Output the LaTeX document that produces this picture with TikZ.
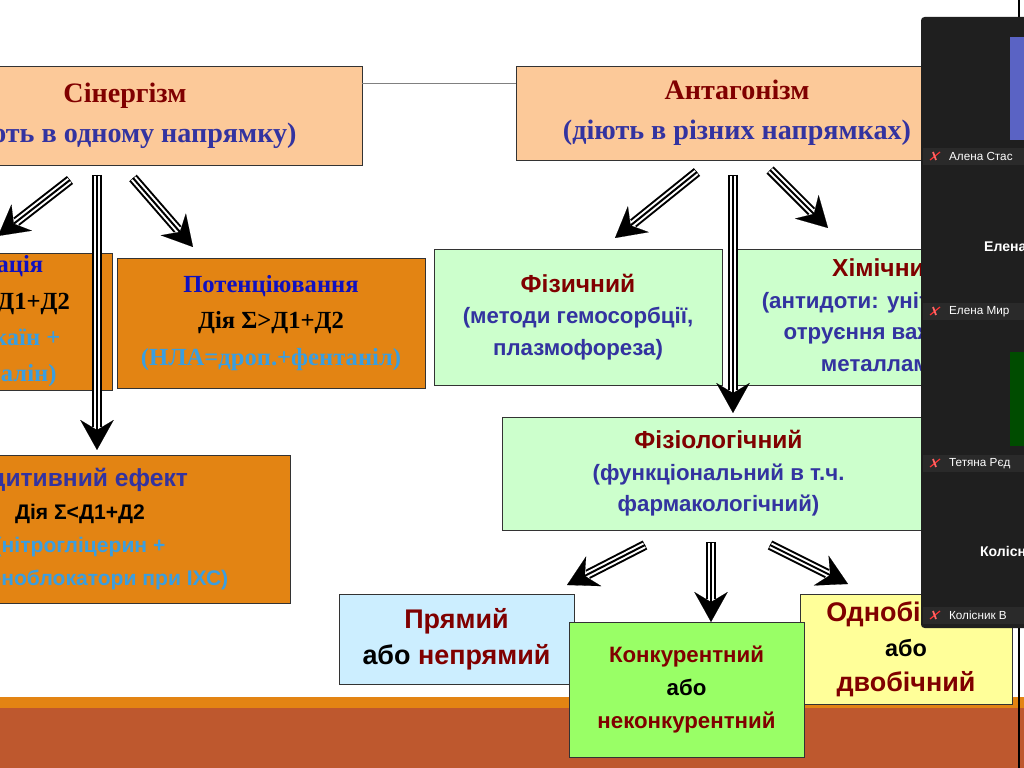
\documentclass[tikz,border=0pt]{standalone}
\usepackage{fontspec}
\setmainfont{Liberation Serif}
\newfontfamily\sansf{Liberation Sans}
\usetikzlibrary{arrows.meta,calc}

\definecolor{peach}{HTML}{FCC999}
\definecolor{orng}{HTML}{E38413}
\definecolor{mint}{HTML}{CCFFCC}
\definecolor{skyb}{HTML}{CCEEFF}
\definecolor{lime}{HTML}{99FF66}
\definecolor{lemon}{HTML}{FFFF99}
\definecolor{dred}{HTML}{800000}
\definecolor{dblue}{HTML}{3333A0}
\definecolor{pblue}{HTML}{1010C0}
\definecolor{lblue}{HTML}{3A9EE0}
\definecolor{brick}{HTML}{BE582E}
\definecolor{zoombg}{HTML}{1F1F1F}
\definecolor{zoombar}{HTML}{2A2A2A}
\definecolor{tileblue}{HTML}{5A63C4}

\newcommand\fs[2]{\fontsize{#1}{#2}\selectfont}
\newcommand\triarrow[2]{%
  \draw[line width=0.3cm] (#1) -- ($(#2)!0.7cm!(#1)$);
  \draw[line width=0.18cm,white,shorten <=0.02cm] (#1) -- ($(#2)!0.68cm!(#1)$);
  \draw[line width=0.06cm] (#1) -- ($(#2)!0.6cm!(#1)$);
  \draw[line width=0.1pt,-{Stealth[length=0.9cm,width=1cm,inset=0.3cm]}] ($(#2)!0.95cm!(#1)$) -- (#2);}

\begin{document}
\begin{tikzpicture}%
        [x=0.03cm, y=-0.03cm,
        box/.style={draw=black!80, line width=0.8pt, inner sep=2pt, align=center},
        zname/.style={text=white, font=\sansf\fs{10pt}{12pt}, anchor=west}]

    \useasboundingbox (0,0) rectangle (1024,768);
    \clip (0,0) rectangle (1024,768);
    \fill[white] (0,0) rectangle (1024,768);
    %% bottom band
    \fill[orng] (0,697) rectangle (1024,708);
    \fill[brick] (0,708) rectangle (1024,768);

    %% top boxes
    \node[box, fill=peach, minimum width=14.22cm, minimum height=2.97cm, font=\bfseries\fs{24pt}{34pt}]
        (syn) at (125,115.5) {\textcolor{dred}{Сінергізм}\\\textcolor{dblue}{(діють в одному напрямку)}};
    \node[box, fill=peach, minimum width=13.26cm, minimum height=2.82cm, font=\bfseries\fs{24pt}{34pt}]
        (ant) at (737,113) {\textcolor{dred}{Антагонізм}\\\textcolor{dblue}{(діють в різних напрямках)}};
    \draw[gray] ([yshift=-0.54cm]syn.north east) -- ([yshift=-0.54cm]ant.north west);

    %% synergism branch
    \node[box, fill=orng, minimum width=6.9cm, minimum height=4.11cm, font=\bfseries\fs{21pt}{31pt}]
        (sum) at (-3,321.5) {\textcolor{pblue}{Сумація}\\Дія Σ=Д1+Д2\\\textcolor{lblue}{(новокаїн +}\\\textcolor{lblue}{адреналін)}};
    \node[box, fill=orng, minimum width=9.24cm, minimum height=3.9cm, font=\bfseries\fs{21pt}{31pt}]
        (pot) at (271,323) {\textcolor{pblue}{Потенціювання}\\Дія Σ>Д1+Д2\\\textcolor{lblue}{(НЛА=дроп.+фентаніл)}};
    \node[box, fill=orng, minimum width=12.6cm, minimum height=4.44cm, font=\sansf\bfseries\fs{18pt}{28pt}]
        (adt) at (80,529) {\textcolor{dblue}{\fs{21pt}{28pt}Адитивний ефект}\\Дія Σ<Д1+Д2\\\textcolor{lblue}{(нітрогліцерин +}\\\textcolor{lblue}{β-адреноблокатори при ІХС)}};

    %% antagonism branch
    \node[box, fill=mint, minimum width=8.64cm, minimum height=4.08cm, font=\sansf\bfseries\fs{19pt}{27pt}]
        (phy) at (578,317) {\textcolor{dred}{\fs{21pt}{30pt}Фізичний}\\\textcolor{dblue}{(методи гемосорбції,}\\\textcolor{dblue}{плазмофореза)}};
    \node[box, fill=mint, minimum width=9cm, minimum height=4.08cm, font=\sansf\bfseries\fs{19pt}{27pt}]
        (chem) at (886,317) {\textcolor{dred}{\fs{21pt}{30pt}Хімічний}\\\textcolor{dblue}{(антидоти: унітіол при}\\\textcolor{dblue}{отруєння важкими}\\\textcolor{dblue}{металлами)}};
    \node[box, fill=mint, minimum width=12.99cm, minimum height=3.39cm, font=\sansf\bfseries\fs{19pt}{27pt}]
        (fiz) at (718.5,473.5) {\textcolor{dred}{\fs{21pt}{30pt}Фізіологічний}\\\textcolor{dblue}{(функціональний в т.ч.}\\\textcolor{dblue}{фармакологічний)}};

    \node[box, fill=skyb, minimum width=7.05cm, minimum height=2.7cm, font=\sansf\bfseries\fs{23pt}{31pt}]
        (dir) at (456.5,639) {\textcolor{dred}{Прямий}\\або \textcolor{dred}{непрямий}};
    \node[box, fill=lemon, minimum width=6.36cm, minimum height=3.3cm, font=\sansf\bfseries\fs{23pt}{30pt}]
        (one) at (906,649) {\textcolor{dred}{Однобічний}\\{\fs{20pt}{30pt}або}\\\textcolor{dred}{двобічний}};
    \node[box, fill=lime, minimum width=7.05cm, minimum height=4.05cm, font=\sansf\bfseries\fs{19pt}{28pt}]
        (comp) at (686.5,689.5) {\textcolor{dred}{Конкурентний}\\або\\\textcolor{dred}{неконкурентний}};

    %% arrows
    \coordinate (s1) at (70,180);  \coordinate (s1e) at (-2,236);
    \coordinate (s2) at (97,175);  \coordinate (s2e) at (97,450);
    \coordinate (s3) at (133,178); \coordinate (s3e) at (193,247);
    \coordinate (a1) at (697,172); \coordinate (a1e) at (615,238);
    \coordinate (a2) at (733,175); \coordinate (a2e) at (733,413);
    \coordinate (a3) at (770,170); \coordinate (a3e) at (828,228);
    \coordinate (f1) at (645,545); \coordinate (f1e) at (567,585);
    \coordinate (f2) at (711,542); \coordinate (f2e) at (711,622);
    \coordinate (f3) at (770,545); \coordinate (f3e) at (848,584);
    \foreach \p in {s1,s2,s3,a1,a2,a3,f1,f2,f3} {\triarrow{\p}{\p e}}

    %% video panel
    \draw[black, line width=1pt] (1019,0) -- (1019,768);
    \fill[zoombg, rounded corners=3pt] (921,17) rectangle (1030,628);
    \fill[tileblue] (1010,37) rectangle (1030,140);
    \fill[green!30!black] (1010,352) rectangle (1030,446);
    \foreach \y/\t in {148/Алена Стас, 303/Елена Мир, 455/Тетяна Рєд, 607/Колісник В} {
      \fill[zoombar] (923,\y) rectangle (1030,\y+17);
      \draw[red!80, line width=1pt] (930,\y+12) -- (940,\y+4);
      \draw[red!60, line width=1.5pt] (933,\y+4) -- (936,\y+12);
      \node[zname] (n\y) at (945,\y+8.5) {\t};
    }
    \node[text=white, font=\sansf\bfseries\fs{12pt}{14pt}, anchor=west] (e1) at (980,247) {Елена};
    \node[text=white, font=\sansf\bfseries\fs{12pt}{14pt}, anchor=west] (e2) at (976,551) {Колісник};
\end{tikzpicture}
\end{document}
